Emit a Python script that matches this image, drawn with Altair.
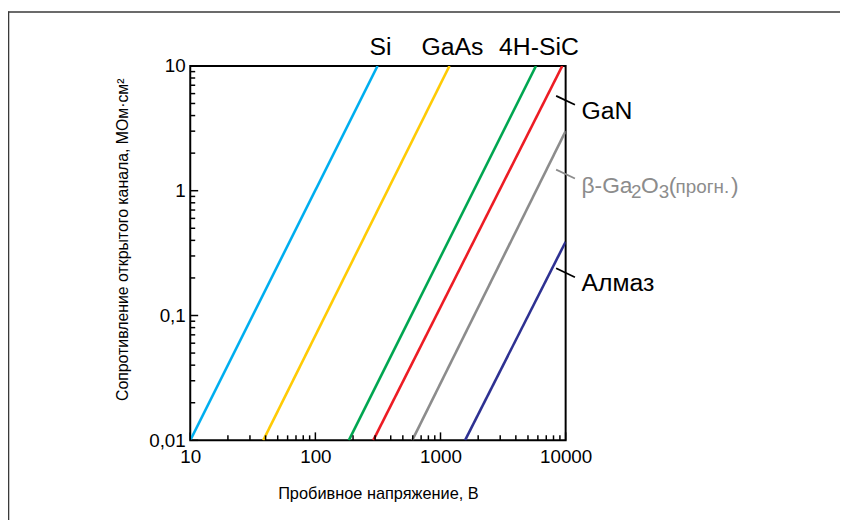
import altair as alt
import pandas as pd

# ---- data ----
series = ["Si", "GaAs", "4H-SiC", "GaN", "β-Ga2O3", "Алмаз"]
x_start = [10, 38.3, 185, 290, 594, 1570]
y_start = [0.01, 0.01, 0.01, 0.01, 0.01, 0.01]
x_end = [314, 1179, 5795, 9400, 10000, 10000]
y_end = [10, 10, 10, 10, 3.0, 0.39]
colors = ["#00aeef", "#ffcb05", "#00a651", "#ed1c24", "#8c8c8c", "#2e3192"]

top_labels = ["Si", "GaAs", "4H-SiC"]
right_labels = ["GaN", "Алмаз"]
right_label_y = [5.3, 0.22]
beta_label_y = 1.36

x_ticks = [10, 100, 1000, 10000]
x_tick_labels = ["10", "100", "1000", "10000"]
y_ticks = [0.01, 0.1, 1, 10]
y_tick_labels = ["0,01", "0,1", "1", "10"]
minor_mult = [2, 3, 4, 5, 6, 7, 8, 9]

x_title = "Пробивное напряжение, В"
y_title = "Сопротивление открытого канала, МОм·см²"

W, H = 379, 378
FONT = "Liberation Sans"

# ---- tables ----
rows = []
for s, xs0, ys0, xe, ye in zip(series, x_start, y_start, x_end, y_end):
    rows.append({"series": s, "x": xs0, "y": ys0, "o": 0})
    rows.append({"series": s, "x": xe, "y": ye, "o": 1})
line_df = pd.DataFrame(rows)

x_minor = [m * d for d in [10, 100, 1000] for m in minor_mult]
y_minor = [m * d for d in [0.01, 0.1, 1] for m in minor_mult]

xs = alt.Scale(type="log", domain=[10, 10000], nice=False)
ys = alt.Scale(type="log", domain=[0.01, 10], nice=False)


def lbl_expr(vals, labels):
    v = ",".join(repr(float(a)) for a in vals)
    l = ",".join("'" + t + "'" for t in labels)
    return f"[{l}][indexof([{v}], datum.value)]"


xaxis = alt.Axis(
    values=x_ticks, labelExpr=lbl_expr(x_ticks, x_tick_labels),
    title=x_title, ticks=False, grid=False, domain=False, labelFlush=False,
    labelPadding=7, labelFontSize=19, labelColor="black",
    titleFontSize=16.5, titleFontWeight="normal", titleColor="black",
    titleY=59, titleBaseline="alphabetic")
yaxis = alt.Axis(
    values=y_ticks, labelExpr=lbl_expr(y_ticks, y_tick_labels),
    title=y_title, ticks=False, grid=False, domain=False,
    labelPadding=5, labelFontSize=19, labelColor="black",
    labelBaseline="middle",
    titleFontSize=16, titleFontWeight="normal", titleColor="black",
    titleX=-63, titleY=175, titleBaseline="alphabetic", titleAngle=-90)

X = alt.X("x:Q", scale=xs, axis=xaxis)
Y = alt.Y("y:Q", scale=ys, axis=yaxis)

lines = alt.Chart(line_df).mark_line(strokeWidth=2.6, clip=True).encode(
    x=X, y=Y,
    color=alt.Color("series:N", scale=alt.Scale(domain=series, range=colors), legend=None),
    order="o:O",
)

tick_style = dict(color="black", strokeWidth=1.5)
xmaj = alt.Chart(pd.DataFrame({"x": x_ticks})).mark_rule(**tick_style).encode(
    x=X, y=alt.value(H), y2=alt.value(H - 8))
xmin = alt.Chart(pd.DataFrame({"x": x_minor})).mark_rule(**tick_style).encode(
    x=X, y=alt.value(H), y2=alt.value(H - 5))
ymaj = alt.Chart(pd.DataFrame({"y": y_ticks})).mark_rule(**tick_style).encode(
    y=Y, x=alt.value(0), x2=alt.value(8))
ymin = alt.Chart(pd.DataFrame({"y": y_minor})).mark_rule(**tick_style).encode(
    y=Y, x=alt.value(0), x2=alt.value(5))

top_df = pd.DataFrame({"label": top_labels, "x": x_end[:3]})
top_text = alt.Chart(top_df).mark_text(
    fontSize=25, align="center", baseline="alphabetic", dx=3, color="black"
).encode(x=X, y=alt.value(-11), text="label:N")

right_df = pd.DataFrame({"label": right_labels, "y": right_label_y})
right_text = alt.Chart(right_df).mark_text(
    fontSize=25, align="left", baseline="alphabetic", dy=18.5, color="black"
).encode(x=alt.value(395), y=Y, text="label:N")
right_lead = alt.Chart(right_df).mark_rule(
    color="black", strokeWidth=1.8, yOffset=-4.5, y2Offset=4.5
).encode(x=alt.value(369.4), x2=alt.value(388.4), y=Y, y2="y:Q")

beta_df = pd.DataFrame({"y": [beta_label_y]})
GRAY = "#8c8c8c"
beta_lead = alt.Chart(beta_df).mark_rule(
    color=GRAY, strokeWidth=1.8, yOffset=-4.5, y2Offset=4.5
).encode(x=alt.value(369.4), x2=alt.value(388.4), y=Y, y2="y:Q")
# (text, x offset, font size, dy)
beta_parts = [("β-Ga", 0, 23, 19.5), ("2", 50, 19, 24), ("O", 60, 23, 19.5),
              ("3", 78, 19, 24), ("(", 88, 23, 19.5), ("прогн.", 95, 19, 19.5),
              (")", 151, 23, 19.5)]
beta_layers = []
for t, off, fs, dy in beta_parts:
    beta_layers.append(alt.Chart(beta_df).mark_text(
        text=t, fontSize=fs, align="left", baseline="alphabetic", dy=dy, color=GRAY
    ).encode(x=alt.value(395 + off), y=Y))

one = alt.Data(values=[{}])
frame_top = alt.Chart(one).mark_rule(color="#3a3a3a", strokeWidth=1.6).encode(
    x=alt.value(-184), x2=alt.value(W + 400), y=alt.value(-54.5))
frame_left = alt.Chart(one).mark_rule(color="#3a3a3a", strokeWidth=1.6).encode(
    x=alt.value(-183.5), y=alt.value(-55), y2=alt.value(H + 300))

chart = alt.layer(
    lines, xmaj, xmin, ymaj, ymin, top_text, right_text, right_lead, beta_lead,
    *beta_layers, frame_top, frame_left
).properties(
    width=W, height=H,
    padding={"left": 184, "top": 56, "right": 277, "bottom": 78},
    autosize=alt.AutoSizeParams(type="none"),
).configure(font=FONT, background="white").configure_view(
    stroke="black", strokeWidth=2
)

chart.save("out.html", embed_options={"renderer": "svg", "actions": False})
